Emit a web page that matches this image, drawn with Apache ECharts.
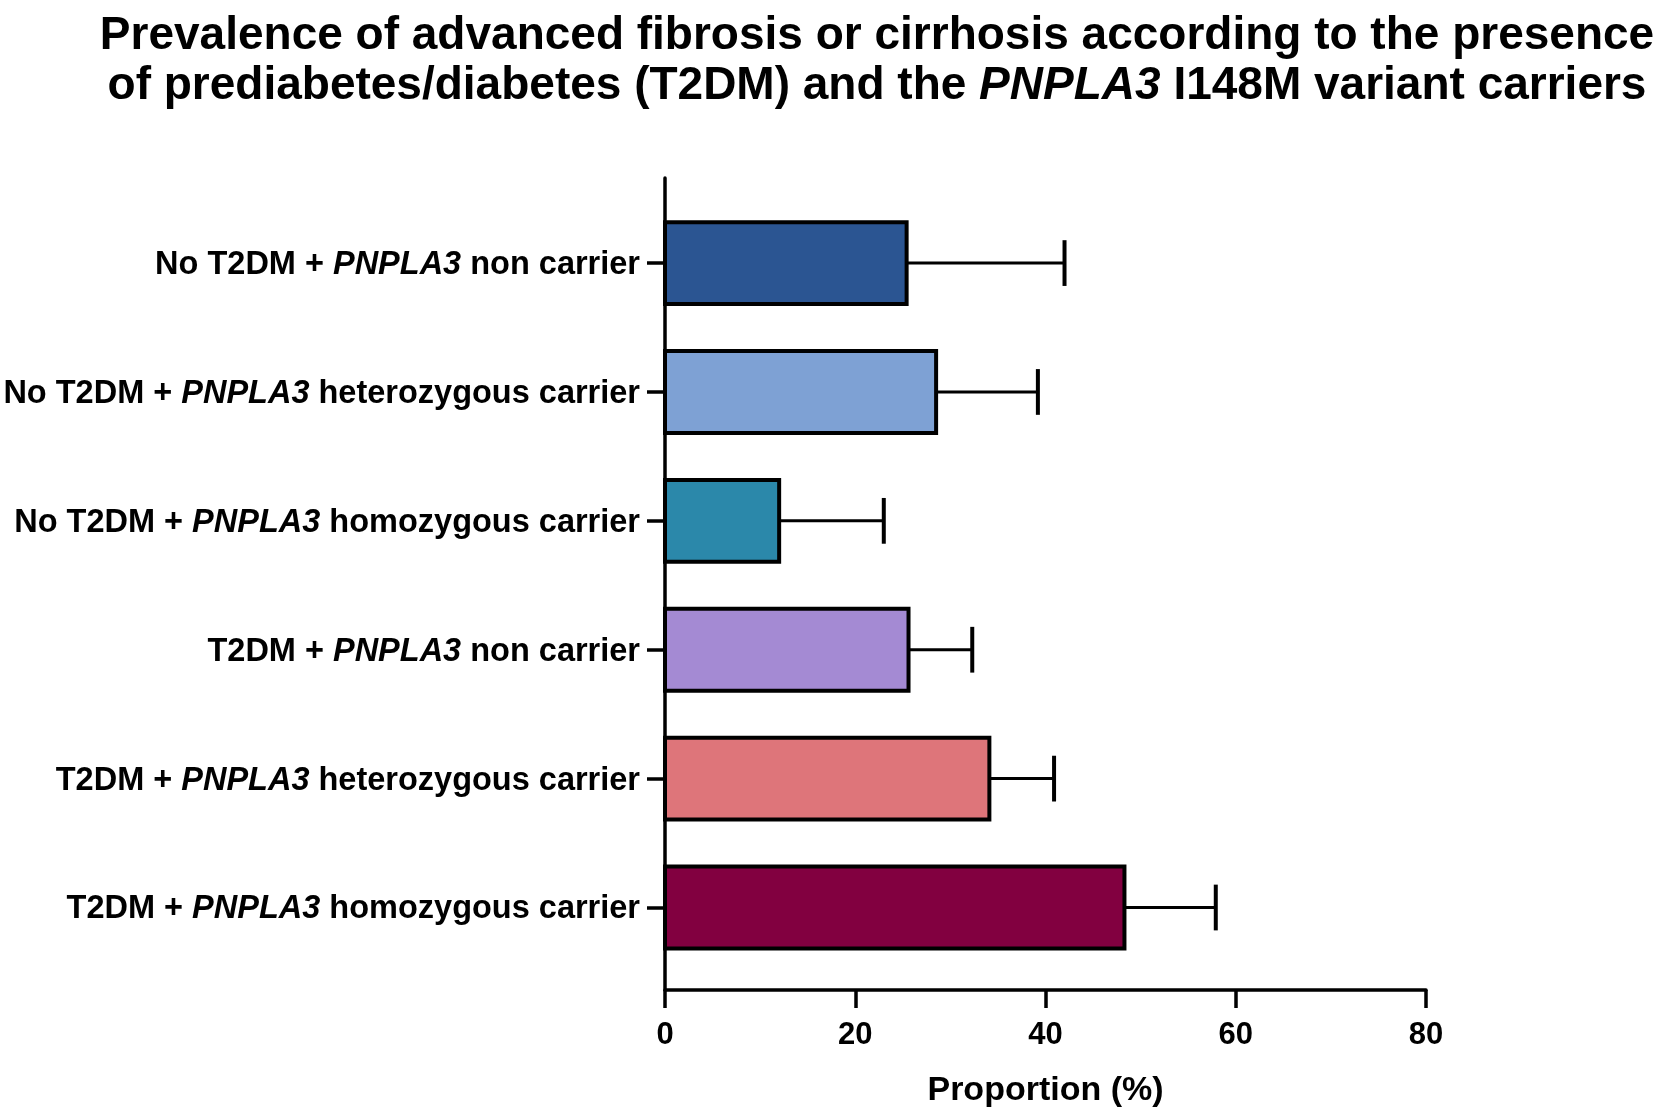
<!DOCTYPE html>
<html>
<head>
<meta charset="utf-8">
<script src="https://cdn.jsdelivr.net/npm/echarts@6/dist/echarts.min.js"></script>
<style>
html,body{margin:0;padding:0;background:#fff;}
#c{width:1667px;height:1113px;}
</style>
</head>
<body>
<div id="c"></div>
<script>
// ---- data ----
const groupPrefix = ['No T2DM + ', 'No T2DM + ', 'No T2DM + ', 'T2DM + ', 'T2DM + ', 'T2DM + '];
const geneName = 'PNPLA3';
const groupSuffix = [' non carrier', ' heterozygous carrier', ' homozygous carrier', ' non carrier', ' heterozygous carrier', ' homozygous carrier'];
const proportion = [25.4, 28.5, 12.0, 25.6, 34.1, 48.3];
const upperError = [42.0, 39.2, 23.0, 32.3, 40.9, 57.9];
const barColors = ['#2B5592', '#7EA1D4', '#2B88AA', '#A48AD3', '#DE757A', '#820040'];
const xTicks = [0, 20, 40, 60, 80];

const FONT = "'Liberation Sans', Arial, sans-serif";
const idx = proportion.map((_, i) => i);

const chart = echarts.init(document.getElementById('c'), null, {renderer: 'canvas'});

const option = {
  backgroundColor: '#ffffff',
  animation: false,
  title: {
    left: 872,
    textAlign: 'center',
    top: 6,
    text: '{b|Prevalence of advanced fibrosis or cirrhosis according to the presence}\n{b|of prediabetes/diabetes (T2DM) and the }{i|PNPLA3}{b| I148M variant carriers}',
    textStyle: {
      rich: {
        b: {fontFamily: FONT, fontWeight: 'bold', fontSize: 46, color: '#000', lineHeight: 50},
        i: {fontFamily: FONT, fontWeight: 'bold', fontStyle: 'italic', fontSize: 46, color: '#000', lineHeight: 50}
      }
    }
  },
  grid: {left: 665, right: 241, top: 178, bottom: 119, containLabel: false},
  xAxis: {
    type: 'value',
    min: 0, max: 80, interval: 20,
    name: 'Proportion (%)',
    nameLocation: 'middle',
    nameGap: 84,
    nameTextStyle: {fontFamily: FONT, fontWeight: 'bold', fontSize: 34, color: '#000'},
    axisLine: {show: true, onZero: false, lineStyle: {color: '#000', width: 3.5}},
    axisTick: {show: true, length: 18, lineStyle: {color: '#000', width: 3.5}},
    axisLabel: {
      fontFamily: FONT, fontWeight: 'bold', fontSize: 31, color: '#000', margin: 30,
      customValues: xTicks
    },
    splitLine: {show: false}
  },
  yAxis: {
    type: 'value',
    inverse: true,
    min: -0.66, max: 5.64,
    axisLine: {show: true, onZero: false, lineStyle: {color: '#000', width: 3.5}},
    axisTick: {show: true, length: 18, customValues: idx, lineStyle: {color: '#000', width: 3.5}},
    axisLabel: {
      customValues: idx,
      margin: 25,
      formatter: function (v) {
        const i = Math.round(v);
        return '{b|' + groupPrefix[i] + '}{i|' + geneName + '}{b|' + groupSuffix[i] + '}';
      },
      rich: {
        b: {fontFamily: FONT, fontWeight: 'bold', fontSize: 32.5, color: '#000', padding: [4, 0, 0, 0]},
        i: {fontFamily: FONT, fontWeight: 'bold', fontStyle: 'italic', fontSize: 32.5, color: '#000', padding: [4, 0, 0, 0]}
      }
    },
    splitLine: {show: false}
  },
  series: [
    {
      type: 'custom',
      name: 'errors',
      data: idx.map(i => [proportion[i], i, upperError[i]]),
      z: 1,
      renderItem: function (params, api) {
        const v = api.value(0), c = api.value(1), u = api.value(2);
        const p0 = api.coord([v, c]);
        const p1 = api.coord([u, c]);
        const capH = api.size([0, 1])[1] * 0.355;
        return {
          type: 'group',
          children: [
            {type: 'line', shape: {x1: p0[0], y1: p0[1], x2: p1[0], y2: p1[1]}, style: {stroke: '#000', lineWidth: 3}},
            {type: 'line', shape: {x1: p1[0], y1: p1[1] - capH / 2, x2: p1[0], y2: p1[1] + capH / 2}, style: {stroke: '#000', lineWidth: 4}}
          ]
        };
      }
    },
    {
      type: 'custom',
      name: 'bars',
      data: idx.map(i => [proportion[i], i]),
      z: 2,
      renderItem: function (params, api) {
        const v = api.value(0), c = api.value(1);
        const start = api.coord([0, c]);
        const end = api.coord([v, c]);
        const h = api.size([0, 1])[1] * 0.635;
        return {
          type: 'rect',
          shape: {x: start[0], y: start[1] - h / 2, width: end[0] - start[0], height: h},
          style: {fill: barColors[params.dataIndex], stroke: '#000', lineWidth: 4}
        };
      }
    }
  ]
};
chart.setOption(option);
</script>
</body>
</html>
